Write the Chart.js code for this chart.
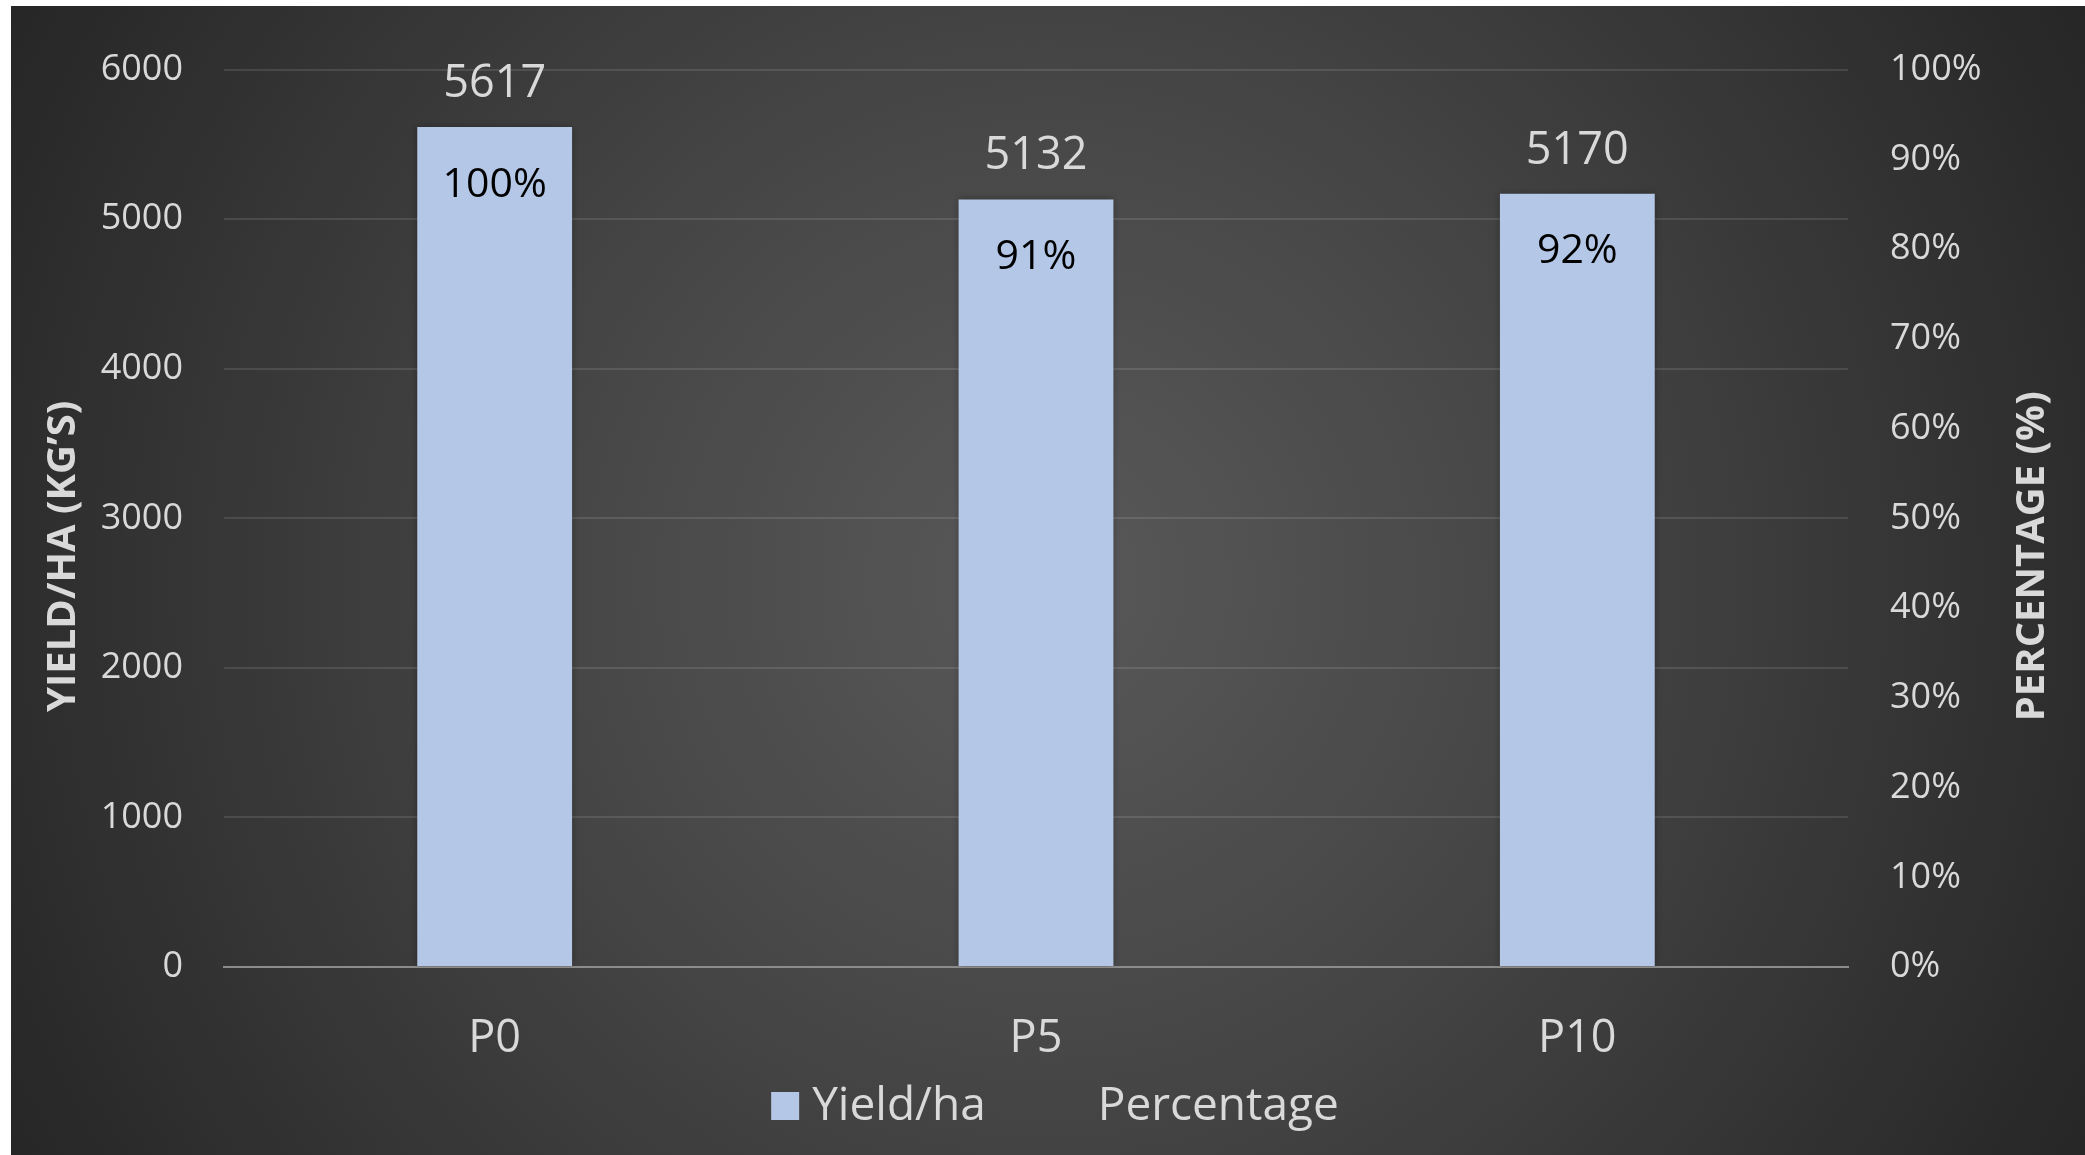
<!DOCTYPE html>
<html>
<head>
<meta charset="utf-8">
<script src="https://cdn.jsdelivr.net/npm/chart.js@4/dist/chart.umd.min.js"></script>
<style>
  html, body { margin: 0; padding: 0; background: #ffffff; width: 2085px; height: 1155px; overflow: hidden; }
  #frame {
    position: absolute; left: 11px; top: 6px; width: 2074px; height: 1149px;
    background: radial-gradient(circle farthest-corner at 50% 50%, #595959 0%, #474747 40%, #262626 100%);
  }
  canvas { display: block; }
</style>
</head>
<body>
<div id="frame"><canvas id="chart" width="2074" height="1149"></canvas></div>
<script>
// Yield per hectare for each phosphorus treatment
const categories = ['P0', 'P5', 'P10'];
const yieldValues = [5617, 5132, 5170];
const percentValues = [100, 91, 92];
const yieldTicks = [0, 1000, 2000, 3000, 4000, 5000, 6000];
const percentTicks = [0, 10, 20, 30, 40, 50, 60, 70, 80, 90, 100];
const seriesNames = ['Yield/ha', 'Percentage'];
const axisTitles = ['YIELD/HA (KG\u2019S)', 'PERCENTAGE (%)'];

const FONT = "'Open Sans', 'Noto Sans', sans-serif";
const TEXT = '#d9d9d9';
const BAR = '#b4c7e7';

// soft shadow round the bars
const barShadow = {
  id: 'barShadow',
  beforeDatasetDraw(chart, args) {
    if (args.index !== 0) return;
    const ctx = chart.ctx;
    ctx.save();
    ctx.shadowColor = 'rgba(0,0,0,0.35)';
    ctx.shadowBlur = 7;
  },
  afterDatasetDraw(chart, args) {
    if (args.index !== 0) return;
    chart.ctx.restore();
  }
};

// value labels above the bars, percentage labels inside the bar tops
const labelsPlugin = {
  id: 'valueLabels',
  afterDatasetsDraw(chart) {
    const ctx = chart.ctx;
    const bars = chart.getDatasetMeta(0).data;
    ctx.save();
    ctx.textAlign = 'center';
    ctx.textBaseline = 'middle';
    bars.forEach((bar, i) => {
      ctx.fillStyle = TEXT;
      ctx.font = `45px ${FONT}`;
      ctx.fillText(String(yieldValues[i]), bar.x, bar.y - 43);
      ctx.fillStyle = '#000000';
      ctx.font = `41px ${FONT}`;
      ctx.fillText(percentValues[i] + '%', bar.x, bar.y + 58);
    });
    ctx.restore();
  }
};

// rotated axis titles and the bottom legend
const decorPlugin = {
  id: 'decor',
  afterDraw(chart) {
    const ctx = chart.ctx;
    const a = chart.chartArea;
    const midY = (a.top + a.bottom) / 2 + 38;
    ctx.save();
    ctx.fillStyle = TEXT;
    ctx.font = `bold 40px ${FONT}`;
    ctx.textAlign = 'center';
    ctx.textBaseline = 'middle';
    ctx.save();
    ctx.translate(53, midY);
    ctx.rotate(-Math.PI / 2);
    ctx.fillText(axisTitles[0], 0, 0);
    ctx.restore();
    ctx.save();
    ctx.translate(2022, midY);
    ctx.rotate(-Math.PI / 2);
    ctx.fillText(axisTitles[1], 0, 0);
    ctx.restore();

    // legend
    ctx.font = `46px ${FONT}`;
    ctx.textAlign = 'left';
    const ds = chart.data.datasets;
    const w1 = ctx.measureText(ds[0].label).width;
    const w2 = ctx.measureText(ds[1].label).width;
    const box = 28, gap = 13, between = 112;
    const total = box + gap + w1 + between + w2;
    const cx = (a.left + a.right) / 2 + 19;
    const ly = 1100;
    let x = cx - total / 2;
    ctx.fillStyle = ds[0].backgroundColor;
    ctx.fillRect(x, ly - box / 2, box, box);
    x += box + gap;
    ctx.fillStyle = TEXT;
    ctx.fillText(ds[0].label, x, ly + 1);
    x += w1 + between;
    ctx.fillText(ds[1].label, x, ly + 1);
    ctx.restore();
  }
};

new Chart(document.getElementById('chart'), {
  data: {
    labels: categories,
    datasets: [
      {
        type: 'bar',
        label: seriesNames[0],
        data: yieldValues,
        backgroundColor: BAR,
        borderWidth: 0,
        categoryPercentage: 1,
        barPercentage: 0.286,
        yAxisID: 'y',
        order: 2
      },
      {
        type: 'line',
        label: seriesNames[1],
        data: percentValues,
        showLine: false,
        pointRadius: 0,
        borderColor: 'rgba(0,0,0,0)',
        backgroundColor: 'rgba(0,0,0,0)',
        yAxisID: 'y1',
        order: 1
      }
    ]
  },
  options: {
    responsive: false,
    devicePixelRatio: 1,
    animation: false,
    layout: { padding: { top: 59, bottom: 0, left: 0, right: 0 } },
    plugins: {
      legend: { display: false },
      tooltip: { enabled: false },
      title: { display: false }
    },
    scales: {
      x: {
        grid: { display: false },
        border: { display: true, color: '#8c8c8c', width: 2 },
        ticks: { color: TEXT, font: { family: FONT, size: 45 }, padding: 37 },
        afterFit(s) { s.height = 188; }
      },
      y: {
        position: 'left',
        min: 0,
        max: 6000,
        afterBuildTicks(s) { s.ticks = yieldTicks.map(v => ({ value: v })); },
        grid: { color: 'rgba(255,255,255,0.11)', lineWidth: 2, drawTicks: false },
        border: { display: false },
        ticks: {
          color: TEXT,
          font: { family: FONT, size: 36 },
          padding: 41,
          callback: v => String(v)
        },
        afterFit(s) { s.width = 213; }
      },
      y1: {
        position: 'right',
        min: 0,
        max: 100,
        afterBuildTicks(s) { s.ticks = percentTicks.map(v => ({ value: v })); },
        grid: { drawOnChartArea: false, drawTicks: false },
        border: { display: false },
        ticks: {
          color: TEXT,
          font: { family: FONT, size: 36 },
          padding: 42,
          callback: v => v + '%'
        },
        afterFit(s) { s.width = 237; }
      }
    }
  },
  plugins: [barShadow, labelsPlugin, decorPlugin]
});
</script>
</body>
</html>
